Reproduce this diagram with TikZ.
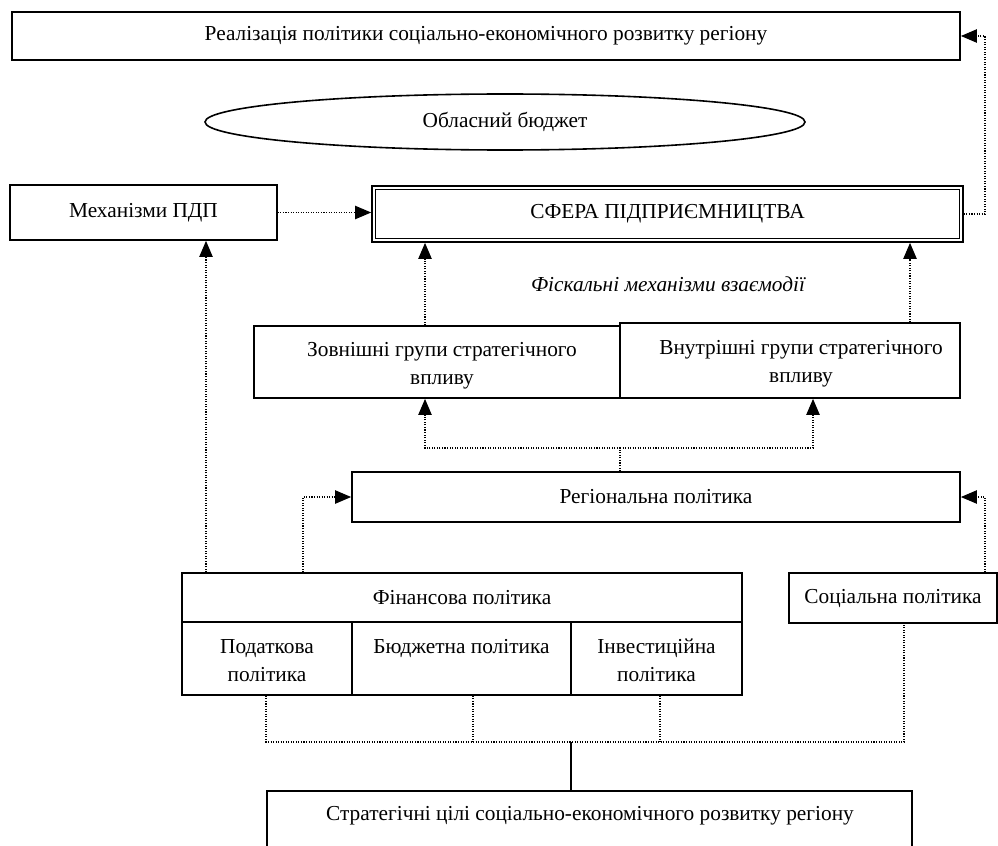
\documentclass[tikz,border=0pt]{standalone}
\usepackage{fontspec}
\setmainfont{Liberation Serif}
\usetikzlibrary{arrows.meta,shapes.geometric}
\newcommand\dgfont{\fontsize{16}{21}\selectfont}
\begin{document}
\begin{tikzpicture}[x=0.75pt,y=-0.75pt,
  box/.style={draw,line width=1.3pt,inner sep=0pt,align=center,font=\dgfont},
  txt/.style={inner sep=0pt,align=center,font=\dgfont},
  dots/.style={line width=0.9pt,dash pattern=on 0.8pt off 1.1pt},
  arr/.style={dots,-{Triangle[length=12pt,width=10pt]}}]
\useasboundingbox (0,0) rectangle (998,845);
\clip (0,0) rectangle (998,845);
% nodes
\node[box,minimum width={948*0.75pt},minimum height={48*0.75pt}] (top) at (486,36) {Реалізація політики соціально-економічного розвитку регіону};
\node[draw,ellipse,line width=1.2pt,inner sep=0pt,font=\dgfont,minimum width={600*0.75pt},minimum height={56*0.75pt}] (budget) at (505,122) {Обласний бюджет};
\node[box,minimum width={267*0.75pt},minimum height={55*0.75pt}] (mech) at (143.5,212.5) {Механізми ПДП};
\node[box,minimum width={591*0.75pt},minimum height={56*0.75pt}] (sphere) at (667.5,214) {СФЕРА ПІДПРИЄМНИЦТВА};
\draw[line width=0.8pt] ([shift={(4,4)}]sphere.north west) rectangle ([shift={(-4,-4)}]sphere.south east);
\node[txt,font=\dgfont\itshape] (fisc) at (668,284) {Фіскальні механізми взаємодії};
\node[box,minimum width={366*0.75pt},minimum height={72*0.75pt}] (zovn) at (437,362) {};
\node[txt] (zovnt) at (442,366) {Зовнішні групи стратегічного\\впливу};
\node[box,minimum width={340*0.75pt},minimum height={75*0.75pt}] (vnutr) at (790,360.5) {};
\node[txt] (vnutrt) at (801,364) {Внутрішні групи стратегічного\\впливу};
\node[box,minimum width={608*0.75pt},minimum height={50*0.75pt}] (reg) at (656,497) {Регіональна політика};
\node[box,minimum width={560*0.75pt},minimum height={122*0.75pt}] (fin) at (462,634) {};
\node[txt] (fintitle) at (462,597.5) {Фінансова політика};
\node[box,minimum width={170*0.75pt},minimum height={73*0.75pt}] (podat) at (267,658.5) {};
\node[box,minimum width={219*0.75pt},minimum height={73*0.75pt}] (budg) at (461.5,658.5) {};
\node[box,minimum width={171*0.75pt},minimum height={73*0.75pt}] (inv) at (656.5,658.5) {};
\node[txt,anchor=north] (podatt) at (267,639) {Податкова\\політика};
\node[txt,anchor=north] (budgt) at (461.5,639) {Бюджетна політика};
\node[txt,anchor=north] (invt) at (656.5,639) {Інвестиційна\\політика};
\node[box,minimum width={208*0.75pt},minimum height={50*0.75pt}] (soc) at (893,598) {Соціальна політика};
\node[box,minimum width={645*0.75pt},minimum height={69*0.75pt}] (goal) at (589.5,825.5) {};
\node[txt] (goalt) at (590,816) {Стратегічні цілі соціально-економічного розвитку регіону};
% helper coordinates
\coordinate (xa) at (425,0);
\coordinate (xb) at (910,0);
\coordinate (xc) at (813,0);
\coordinate (xd) at (620,0);
\coordinate (xe) at (303,0);
\coordinate (xf) at (985,0);
\coordinate (xg) at (206,0);
\coordinate (xh) at (266,0);
\coordinate (xi) at (473,0);
\coordinate (xj) at (660,0);
\coordinate (xk) at (904,0);
\coordinate (xl) at (571,0);
\coordinate (yr) at (0,448);
\coordinate (yb) at (0,742);
% connectors
\draw[arr] (sphere.east) -- (xf |- sphere.east) |- (top.east);
\draw[arr] (mech.east) -- (mech.east -| sphere.west);
\draw[arr] (zovn.north -| xa) -- (sphere.south -| xa);
\draw[arr] (vnutr.north -| xb) -- (sphere.south -| xb);
\draw[arr] (reg.north -| xd) -- (xd |- yr) -| (zovn.south -| xa);
\draw[arr] (xd |- yr) -| (vnutr.south -| xc);
\draw[arr] (fin.north -| xe) |- (reg.west);
\draw[arr] (soc.north -| xf) |- (reg.east);
\draw[arr] (fin.north -| xg) -- (mech.south -| xg);
\draw[dots] (podat.south -| xh) -- (xh |- yb) -- (xk |- yb) -- (soc.south -| xk);
\draw[dots] (budg.south -| xi) -- (xi |- yb);
\draw[dots] (inv.south -| xj) -- (xj |- yb);
\draw[line width=1.3pt] (xl |- yb) -- (goal.north -| xl);
\end{tikzpicture}
\end{document}
